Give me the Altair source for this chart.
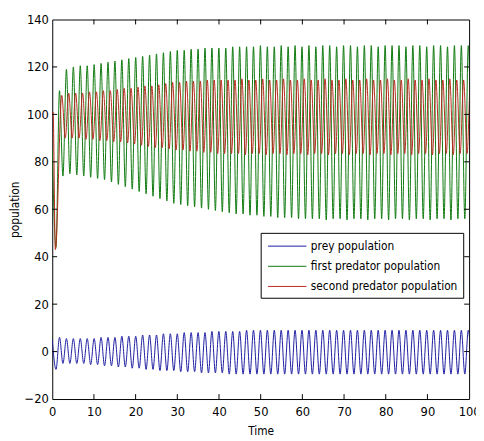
import altair as alt
import pandas as pd

# ---- values ----
series_names = ["prey population", "first predator population", "second predator population"]
colors = ["#1c1ca0", "#0c780c", "#b82a20"]

PERIOD = 1.662        # time between successive peaks
FIRST_PEAK = 1.74     # time of first regular peak

x_ticks = [0, 10, 20, 30, 40, 50, 60, 70, 80, 90, 100]
y_ticks = [-20, 0, 20, 40, 60, 80, 100, 120, 140]

# initial transients (time, value)
prey_start_t = [0.0, 0.91]
prey_start_v = [5.0, -7.5]
first_start_t = [0.0, 0.9]
first_start_v = [85.0, 44.0]
second_start_t = [0.0, 0.2, 0.75]
second_start_v = [100.0, 101.0, 43.0]

# successive peak / trough values of each oscillation
first_peaks = [110, 119, 120, 120.5, 120.5, 121, 121.5, 122, 122.5, 123,
               123.5, 124, 124.5, 125, 125.5, 126, 126.5, 127, 127, 127.5,
               127.5, 128, 128, 128, 128, 128.5, 128.5, 128.5, 128.5, 129,
               128.5, 128.5, 129, 128.5, 129, 128.5, 129, 128.5, 129, 129,
               128.5, 129, 129, 128.5, 129, 129, 128.5, 129, 129, 129,
               128.5, 129, 129, 128.5, 129, 129, 128.5, 129, 129, 129]
first_troughs = [74, 75, 74.5, 74, 73.5, 73, 72.5, 71.5, 70.5, 69.5,
                 68.5, 67.5, 66.5, 65.5, 64.5, 63.5, 62.5, 62, 61.5, 61,
                 60.5, 60, 59.5, 59, 58.5, 58, 58, 57.5, 57.5, 57,
                 57, 56.5, 56.5, 56.5, 56, 56, 56, 56, 55.5, 56,
                 56, 55.5, 56, 56, 55.5, 56, 56, 55.5, 56, 56,
                 55.5, 56, 56, 55.5, 56, 56, 55.5, 56, 56, 56]
second_peaks = [108, 109, 109, 109, 109.5, 109.5, 110, 110, 110.5, 111,
                111, 111.5, 112, 112, 112.5, 113, 113.5, 113.5, 114, 114,
                114, 114.5, 114.5, 114.5, 114.5, 114.5, 115, 114.5, 114.5, 115,
                114.5, 114.5, 115, 114.5, 114.5, 115, 114.5, 114.5, 115, 114.5,
                114.5, 115, 114.5, 114.5, 115, 114.5, 114.5, 115, 114.5, 114.5,
                115, 114.5, 114.5, 115, 114.5, 114.5, 115, 114.5, 114.5, 115]
second_troughs = [90, 90, 90, 89.5, 89.5, 89, 89, 88.5, 88.5, 88,
                  87.5, 87, 86.5, 86, 86, 85.5, 85, 85, 84.5, 84.5,
                  84, 84, 83.5, 83.5, 83.5, 83.5, 83, 83.5, 83.5, 83,
                  83.5, 83.5, 83, 83.5, 83.5, 83, 83.5, 83.5, 83, 83.5,
                  83.5, 83, 83.5, 83.5, 83, 83.5, 83.5, 83, 83.5, 83.5,
                  83, 83.5, 83.5, 83, 83.5, 83.5, 83, 83.5, 83.5, 83]
prey_peaks = [6, 5.5, 5.5, 5.5, 5.5, 5.5, 6, 6, 6, 6.5,
              6.5, 6.5, 7, 7, 7, 7.5, 7.5, 7.5, 8, 8,
              8, 8, 8.5, 8.5, 8.5, 8.5, 8.5, 9, 9, 9,
              9, 9, 9, 9, 9, 9, 9, 9, 9, 9,
              9, 9, 9, 9, 9, 9, 9, 9, 9, 9,
              9, 9, 9, 9, 9, 9, 9, 9, 9, 9]
prey_troughs = [-5, -5, -5, -5, -5.5, -5.5, -6, -6, -6.5, -6.5,
                -7, -7, -7.5, -7.5, -8, -8, -8, -8.5, -8.5, -8.5,
                -9, -9, -9, -9, -9.5, -9.5, -9.5, -9.5, -9.5, -9.5,
                -9.5, -9.5, -9.5, -9.5, -9.5, -9.5, -9.5, -9.5, -9.5, -9.5,
                -9.5, -9.5, -9.5, -9.5, -9.5, -9.5, -9.5, -9.5, -9.5, -9.5,
                -9.5, -9.5, -9.5, -9.5, -9.5, -9.5, -9.5, -9.5, -9.5, -9.5]

# phase of peak / trough within each cycle
phase = {
    "prey population": (0.0, 0.83),
    "first predator population": (0.0, 0.83),
    "second predator population": (0.55, 1.38),
}


def build(name, st, sv, peaks, troughs):
    rows = [{"t": t, "v": v, "s": name} for t, v in zip(st, sv)]
    ps, ts = phase[name]
    for k, (p, q) in enumerate(zip(peaks, troughs)):
        base = FIRST_PEAK + PERIOD * k
        rows.append({"t": base + ps, "v": p, "s": name})
        rows.append({"t": base + ts, "v": q, "s": name})
    return rows


rows = (build(series_names[0], prey_start_t, prey_start_v, prey_peaks, prey_troughs)
        + build(series_names[1], first_start_t, first_start_v, first_peaks, first_troughs)
        + build(series_names[2], second_start_t, second_start_v, second_peaks, second_troughs))
df = pd.DataFrame(rows)

W, H = 424, 386
FONT = "DejaVu Sans Condensed, Liberation Sans, sans-serif"

xscale = alt.Scale(domain=[0, 100], nice=False, zero=False)
yscale = alt.Scale(domain=[-20, 140], nice=False, zero=False)
cscale = alt.Scale(domain=series_names, range=colors)

x_axis = alt.Axis(values=x_ticks, tickSize=0, labelPadding=7, grid=False, domain=False,
                  title="Time", titlePadding=7, labelFlush=False)
y_axis = alt.Axis(values=y_ticks, tickSize=0, labelPadding=4, grid=False, domain=False,
                  title="population", titlePadding=3)

legend = alt.Legend(
    orient="none", legendX=212, legendY=217, title=None,
    symbolType="M-2.44,0L2.44,0", symbolSize=256, symbolStrokeWidth=1,
    symbolOffset=13.5, labelOffset=15.5, rowPadding=5.5, padding=5,
    strokeColor="black", fillColor="white", cornerRadius=0,
    labelFont=FONT, labelFontSize=12, labelColor="black", labelLimit=400,
)


def line_layer(name):
    return alt.Chart(df).transform_filter(alt.datum.s == name).mark_line(
        strokeWidth=1, clip=True, interpolate="monotone"
    ).encode(
        x=alt.X("t:Q", scale=xscale, axis=x_axis),
        y=alt.Y("v:Q", scale=yscale, axis=y_axis),
        color=alt.Color("s:N", scale=cscale, legend=legend, sort=series_names),
        order=alt.Order("t:Q"),
    )


xt = pd.DataFrame({"x": x_ticks[1:-1]})
yt = pd.DataFrame({"y": y_ticks[1:-1]})
tick_x = alt.X("x:Q", scale=xscale, axis=x_axis)
tick_y = alt.Y("y:Q", scale=yscale, axis=y_axis)
ticks = [
    alt.Chart(xt).mark_rule(color="black", strokeWidth=1).encode(x=tick_x, y=alt.value(H), y2=alt.value(H - 5)),
    alt.Chart(xt).mark_rule(color="black", strokeWidth=1).encode(x=tick_x, y=alt.value(0), y2=alt.value(5)),
    alt.Chart(yt).mark_rule(color="black", strokeWidth=1).encode(y=tick_y, x=alt.value(0), x2=alt.value(5)),
    alt.Chart(yt).mark_rule(color="black", strokeWidth=1).encode(y=tick_y, x=alt.value(W), x2=alt.value(W - 5)),
]

chart = alt.layer(
    line_layer(series_names[1]),
    line_layer(series_names[2]),
    line_layer(series_names[0]),
    *ticks,
).properties(
    width=W, height=H,
    autosize=alt.AutoSizeParams(type="none"),
    padding={"left": 45, "top": 8, "right": 7, "bottom": 40},
).configure_view(
    stroke="black", strokeWidth=1
).configure_axis(
    labelFont=FONT, labelFontSize=13, labelColor="black",
    titleFont=FONT, titleFontSize=12, titleColor="black", titleFontWeight="normal",
)

chart.save("out.html", embed_options={"renderer": "svg", "actions": False})
